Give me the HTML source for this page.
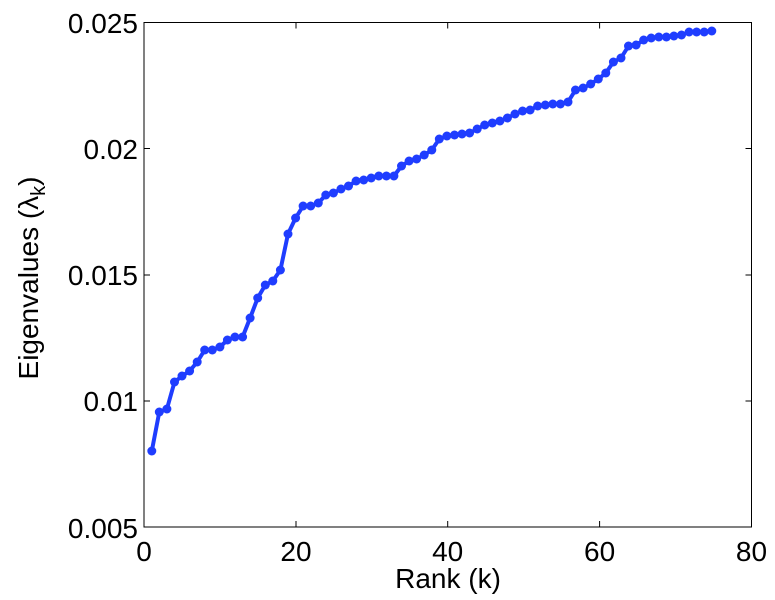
<!DOCTYPE html>
<html><head><style>body{margin:0;background:#fff}svg{display:block}text{font-family:"Liberation Sans",sans-serif;fill:#000}</style></head>
<body>
<svg width="775" height="600" viewBox="0 0 775 600" xmlns="http://www.w3.org/2000/svg">
<defs>
<marker id="m" markerUnits="userSpaceOnUse" markerWidth="12" markerHeight="12" refX="6" refY="6" viewBox="0 0 12 12"><circle cx="6" cy="6" r="4.5" fill="#1f3dff"/></marker>
</defs>
<rect x="144" y="22.5" width="607.5" height="504.5" fill="none" stroke="#000" stroke-width="1"/>
<g stroke="#000" stroke-width="1">
<line x1="296" y1="527" x2="296" y2="521"/><line x1="447.7" y1="527" x2="447.7" y2="521"/><line x1="599.6" y1="527" x2="599.6" y2="521"/>
<line x1="296" y1="22.5" x2="296" y2="28.5"/><line x1="447.7" y1="22.5" x2="447.7" y2="28.5"/><line x1="599.6" y1="22.5" x2="599.6" y2="28.5"/>
<line x1="144" y1="401" x2="150" y2="401"/><line x1="144" y1="275" x2="150" y2="275"/><line x1="144" y1="148.5" x2="150" y2="148.5"/>
<line x1="751.5" y1="401" x2="745.5" y2="401"/><line x1="751.5" y1="275" x2="745.5" y2="275"/><line x1="751.5" y1="148.5" x2="745.5" y2="148.5"/>
</g>
<g font-size="28" text-anchor="end">
<text x="138" y="538">0.005</text><text x="138" y="411">0.01</text><text x="138" y="285">0.015</text><text x="138" y="159">0.02</text><text x="138" y="33">0.025</text>
</g>
<g font-size="28" text-anchor="middle">
<text x="144" y="561">0</text><text x="296" y="561">20</text><text x="447.7" y="561">40</text><text x="599.6" y="561">60</text><text x="751.5" y="561">80</text>
<text x="448" y="588">Rank (k)</text>
<text transform="translate(38,278) rotate(-90)">Eigenvalues (λ<tspan font-size="20" dy="7">k</tspan><tspan dy="-7">)</tspan></text>
</g>
<polyline transform="translate(-1.8,0)" fill="none" stroke="#1f3dff" stroke-width="4" stroke-linejoin="round" marker-start="url(#m)" marker-mid="url(#m)" marker-end="url(#m)" points="153.6,451 161.1,412 168.7,409 176.3,382 183.8,376 191.4,371 199.0,362 206.5,350 214.1,350 221.7,347 229.2,340 236.8,337 244.4,337 251.9,318 259.5,298 267.1,285 274.6,281 282.2,270 289.8,234 297.4,218 304.9,206 312.5,206 320.1,203 327.6,195 335.2,193 342.8,189 350.3,186 357.9,181 365.5,180 373.0,178 380.6,176 388.2,176 395.7,176 403.3,166 410.9,161 418.4,159 426.0,155 433.6,150 441.1,139 448.7,136 456.3,135 463.8,134 471.4,133 479.0,129 486.5,125 494.1,123 501.7,121 509.2,118 516.8,114 524.4,111 531.9,110 539.5,106 547.1,105 554.6,104 562.2,104 569.8,102 577.3,90 584.9,88 592.5,84 600.1,79 607.6,73 615.2,62 622.8,58 630.3,46 637.9,45 645.5,40 653.0,38 660.6,37 668.2,37 675.7,36 683.3,35 690.9,32 698.4,32 706.0,32 713.6,31"/>
</svg>
</body></html>
